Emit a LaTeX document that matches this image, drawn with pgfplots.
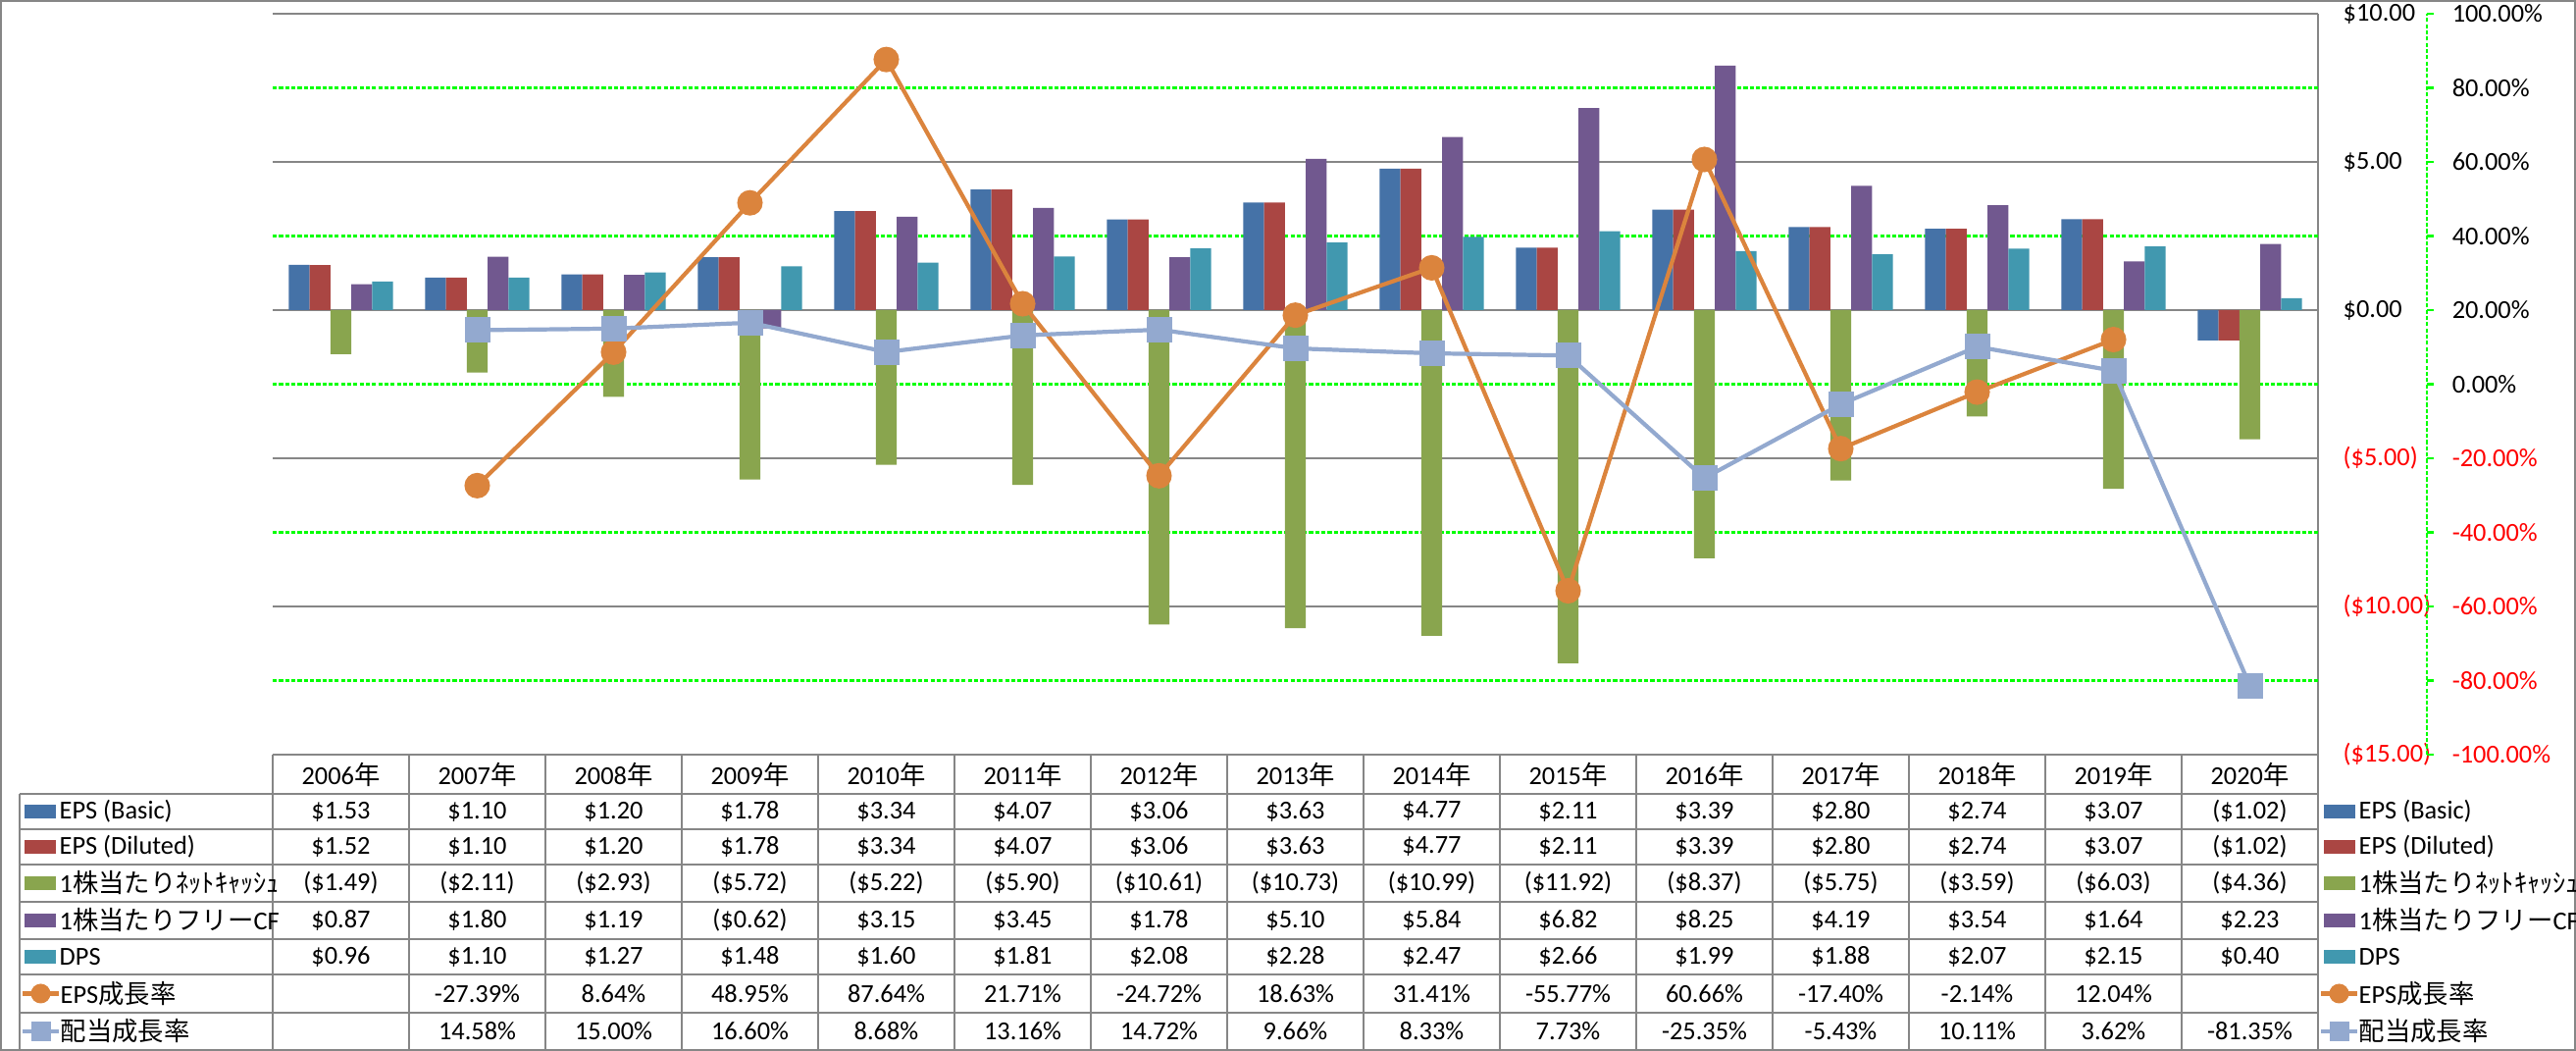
\documentclass[border=0pt]{standalone}
\usepackage{fontspec}
\setmainfont{Carlito}
\newfontfamily\cjk{Noto Sans CJK JP}
\usepackage{pgfplots}
\usepackage{pgfplotstable}
\pgfplotsset{compat=1.18}
\definecolor{cBasic}{HTML}{4572A7}
\definecolor{cDil}{HTML}{AA4643}
\definecolor{cCash}{HTML}{89A54E}
\definecolor{cFcf}{HTML}{71588F}
\definecolor{cDps}{HTML}{4198AF}
\definecolor{cEpsg}{HTML}{DB843D}
\definecolor{cDivg}{HTML}{93A9CF}
\definecolor{gridgray}{HTML}{868686}
\definecolor{gridgreen}{HTML}{00FF00}
\definecolor{negred}{HTML}{FF0000}

% per-share values ($) and growth rates (%)
\pgfplotstableread{
x basic diluted ncash fcf dps epsg divg
0 1.53 1.52 -1.49 0.87 0.96 nan nan
1 1.10 1.10 -2.11 1.80 1.10 -27.39 14.58
2 1.20 1.20 -2.93 1.19 1.27 8.64 15.00
3 1.78 1.78 -5.72 -0.62 1.48 48.95 16.60
4 3.34 3.34 -5.22 3.15 1.60 87.64 8.68
5 4.07 4.07 -5.90 3.45 1.81 21.71 13.16
6 3.06 3.06 -10.61 1.78 2.08 -24.72 14.72
7 3.63 3.63 -10.73 5.10 2.28 18.63 9.66
8 4.77 4.77 -10.99 5.84 2.47 31.41 8.33
9 2.11 2.11 -11.92 6.82 2.66 -55.77 7.73
10 3.39 3.39 -8.37 8.25 1.99 60.66 -25.35
11 2.80 2.80 -5.75 4.19 1.88 -17.40 -5.43
12 2.74 2.74 -3.59 3.54 2.07 -2.14 10.11
13 3.07 3.07 -6.03 1.64 2.15 12.04 3.62
14 -1.02 -1.02 -4.36 2.23 0.40 nan -81.35
}\data

\newcommand\tabfont{\fontsize{7.5pt}{9pt}\selectfont}
\def\nanstr{nan}
\newcommand\money[1]{%
  \pgfmathparse{abs(#1)}\let\av\pgfmathresult
  \pgfmathtruncatemacro\isneg{#1<0}%
  \ifnum\isneg=1 (\$\pgfmathprintnumber[fixed,fixed zerofill,precision=2,assume math mode=true]{\av})%
  \else\$\pgfmathprintnumber[fixed,fixed zerofill,precision=2,assume math mode=true]{\av}\fi}
\newcommand\pct[1]{%
  \edef\tmp{#1}%
  \ifx\tmp\nanstr\else\pgfmathprintnumber[fixed,fixed zerofill,precision=2,assume math mode=true]{#1}\%\fi}
\newcommand\rowvals[3]{%
  \pgfplotstableforeachcolumnelement{#1}\of\data\as\cell{%
    \node[font=\tabfont] at ({2.78+1.39*(\pgfplotstablerow+0.5)},#2) {#3{\cell}};}}
\newcommand\barrow[3]{%
  \fill[#2] (0.25,#1-0.07) rectangle ++(0.32,0.14);
  \node[anchor=west,inner sep=0pt,font=\tabfont] at (0.60,#1) {#3};
  \fill[#2] (23.69,#1-0.07) rectangle ++(0.32,0.14);
  \node[anchor=west,inner sep=0pt,font=\tabfont] at (24.04,#1) {#3};}

\begin{document}
\begin{tikzpicture}
\useasboundingbox (0,0) rectangle (26.26,10.71);
\draw[gridgray, line width=0.5pt] (0.01,0.01) rectangle (26.25,10.70);

% bars, primary $ axis on the right
\begin{axis}[
  at={(2.78cm,3.02cm)}, anchor=south west, scale only axis,
  width=20.85cm, height=7.55cm,
  xmin=-0.5, xmax=14.5, ymin=-15, ymax=10,
  axis x line=none, axis y line*=right,
  y axis line style={draw=gridgray, line width=0.5pt, -},
  ytick={-15,-10,-5,0,5,10},
  yticklabels={{\color{negred}(\$15.00)},{\color{negred}(\$10.00)},{\color{negred}(\$5.00)},\$0.00,\$5.00,\$10.00},
  yticklabel style={anchor=west, inner sep=0pt, xshift=0.25cm, font=\tabfont},
  major tick length=0pt,
  ymajorgrids, major grid style={gridgray, line width=0.5pt},
  extra y ticks={-12.5,-7.5,-2.5,2.5,7.5},
  extra y tick labels={},
  extra y tick style={grid=major, major grid style={gridgreen, dash pattern=on 1.2pt off 0.6pt, line width=0.6pt}},
  ybar=0pt, bar width=0.153,
]
  \addplot[fill=cBasic, draw=none] table[x=x,y=basic]{\data};
  \addplot[fill=cDil, draw=none] table[x=x,y=diluted]{\data};
  \addplot[fill=cCash, draw=none] table[x=x,y=ncash]{\data};
  \addplot[fill=cFcf, draw=none] table[x=x,y=fcf]{\data};
  \addplot[fill=cDps, draw=none] table[x=x,y=dps]{\data};
\end{axis}

% growth lines, secondary % axis
\begin{axis}[
  at={(2.78cm,3.02cm)}, anchor=south west, scale only axis,
  width=20.85cm, height=7.55cm,
  xmin=-0.5, xmax=14.5, ymin=-100, ymax=100,
  hide axis, clip=false,
]
  \addplot[cEpsg, line width=1.2pt, mark=*, mark size=3.1pt] table[x=x,y=epsg]{\data};
  \addplot[cDivg, line width=1.2pt, mark=square*, mark size=3.1pt] table[x=x,y=divg]{\data};
\end{axis}

% the offset green % axis line with its labels
\begin{axis}[
  at={(2.78cm,3.02cm)}, anchor=south west, scale only axis,
  width=21.96cm, height=7.55cm,
  xmin=0, xmax=1, ymin=-100, ymax=100,
  axis x line=none, axis y line*=right,
  y axis line style={draw=gridgreen, dash pattern=on 1.2pt off 0.6pt, line width=0.6pt, -},
  ytick={-100,-80,...,100},
  yticklabels={{\color{negred}-100.00\%},{\color{negred}-80.00\%},{\color{negred}-60.00\%},{\color{negred}-40.00\%},{\color{negred}-20.00\%},0.00\%,20.00\%,40.00\%,60.00\%,80.00\%,100.00\%},
  tick align=outside, major tick length=0.07cm,
  major tick style={draw=gridgreen, line width=0.6pt},
  yticklabel style={anchor=west, inner sep=0pt, xshift=0.18cm, font=\tabfont},
]
\end{axis}

% data table
\begin{scope}[gridgray, line width=0.5pt]
  \foreach \y in {2.62,2.26,1.90,1.52,1.14,0.78,0.39,0.01}
    \draw (0.20,\y) -- (23.63,\y);
  \draw (0.20,0.01) -- (0.20,2.62);
  \foreach \k in {0,...,15}
    \draw ({2.78+1.39*\k},0.01) -- ({2.78+1.39*\k},3.02);
\end{scope}
\foreach \i in {0,...,14} {
  \pgfmathtruncatemacro\yr{2006+\i}
  \node[font=\tabfont] at ({2.78+1.39*(\i+0.5)},2.82) {\yr{\cjk 年}};
}
\rowvals{basic}{2.44}{\money}
\rowvals{diluted}{2.08}{\money}
\rowvals{ncash}{1.71}{\money}
\rowvals{fcf}{1.33}{\money}
\rowvals{dps}{0.96}{\money}
\rowvals{epsg}{0.585}{\pct}
\rowvals{divg}{0.20}{\pct}

% legend keys in the table and at the right
\barrow{2.44}{cBasic}{EPS (Basic)}
\barrow{2.08}{cDil}{EPS (Diluted)}
\barrow{1.71}{cCash}{1{\cjk 株当たりﾈｯﾄｷｬｯｼｭ}}
\barrow{1.33}{cFcf}{1{\cjk 株当たりフリー}CF}
\barrow{0.96}{cDps}{DPS}
\foreach \x in {0.23,23.66} {
  \draw[cEpsg, line width=1.2pt] (\x,0.585) -- ++(0.37,0);
  \fill[cEpsg] ({\x+0.185},0.585) circle (0.1);
  \draw[cDivg, line width=1.2pt] (\x,0.20) -- ++(0.37,0);
  \fill[cDivg] ({\x+0.085},0.10) rectangle ++(0.2,0.2);
}
\node[anchor=west,inner sep=0pt,font=\tabfont] at (0.61,0.585) {EPS{\cjk 成長率}};
\node[anchor=west,inner sep=0pt,font=\tabfont] at (24.04,0.585) {EPS{\cjk 成長率}};
\node[anchor=west,inner sep=0pt,font=\tabfont] at (0.61,0.20) {{\cjk 配当成長率}};
\node[anchor=west,inner sep=0pt,font=\tabfont] at (24.04,0.20) {{\cjk 配当成長率}};
\end{tikzpicture}
\end{document}
